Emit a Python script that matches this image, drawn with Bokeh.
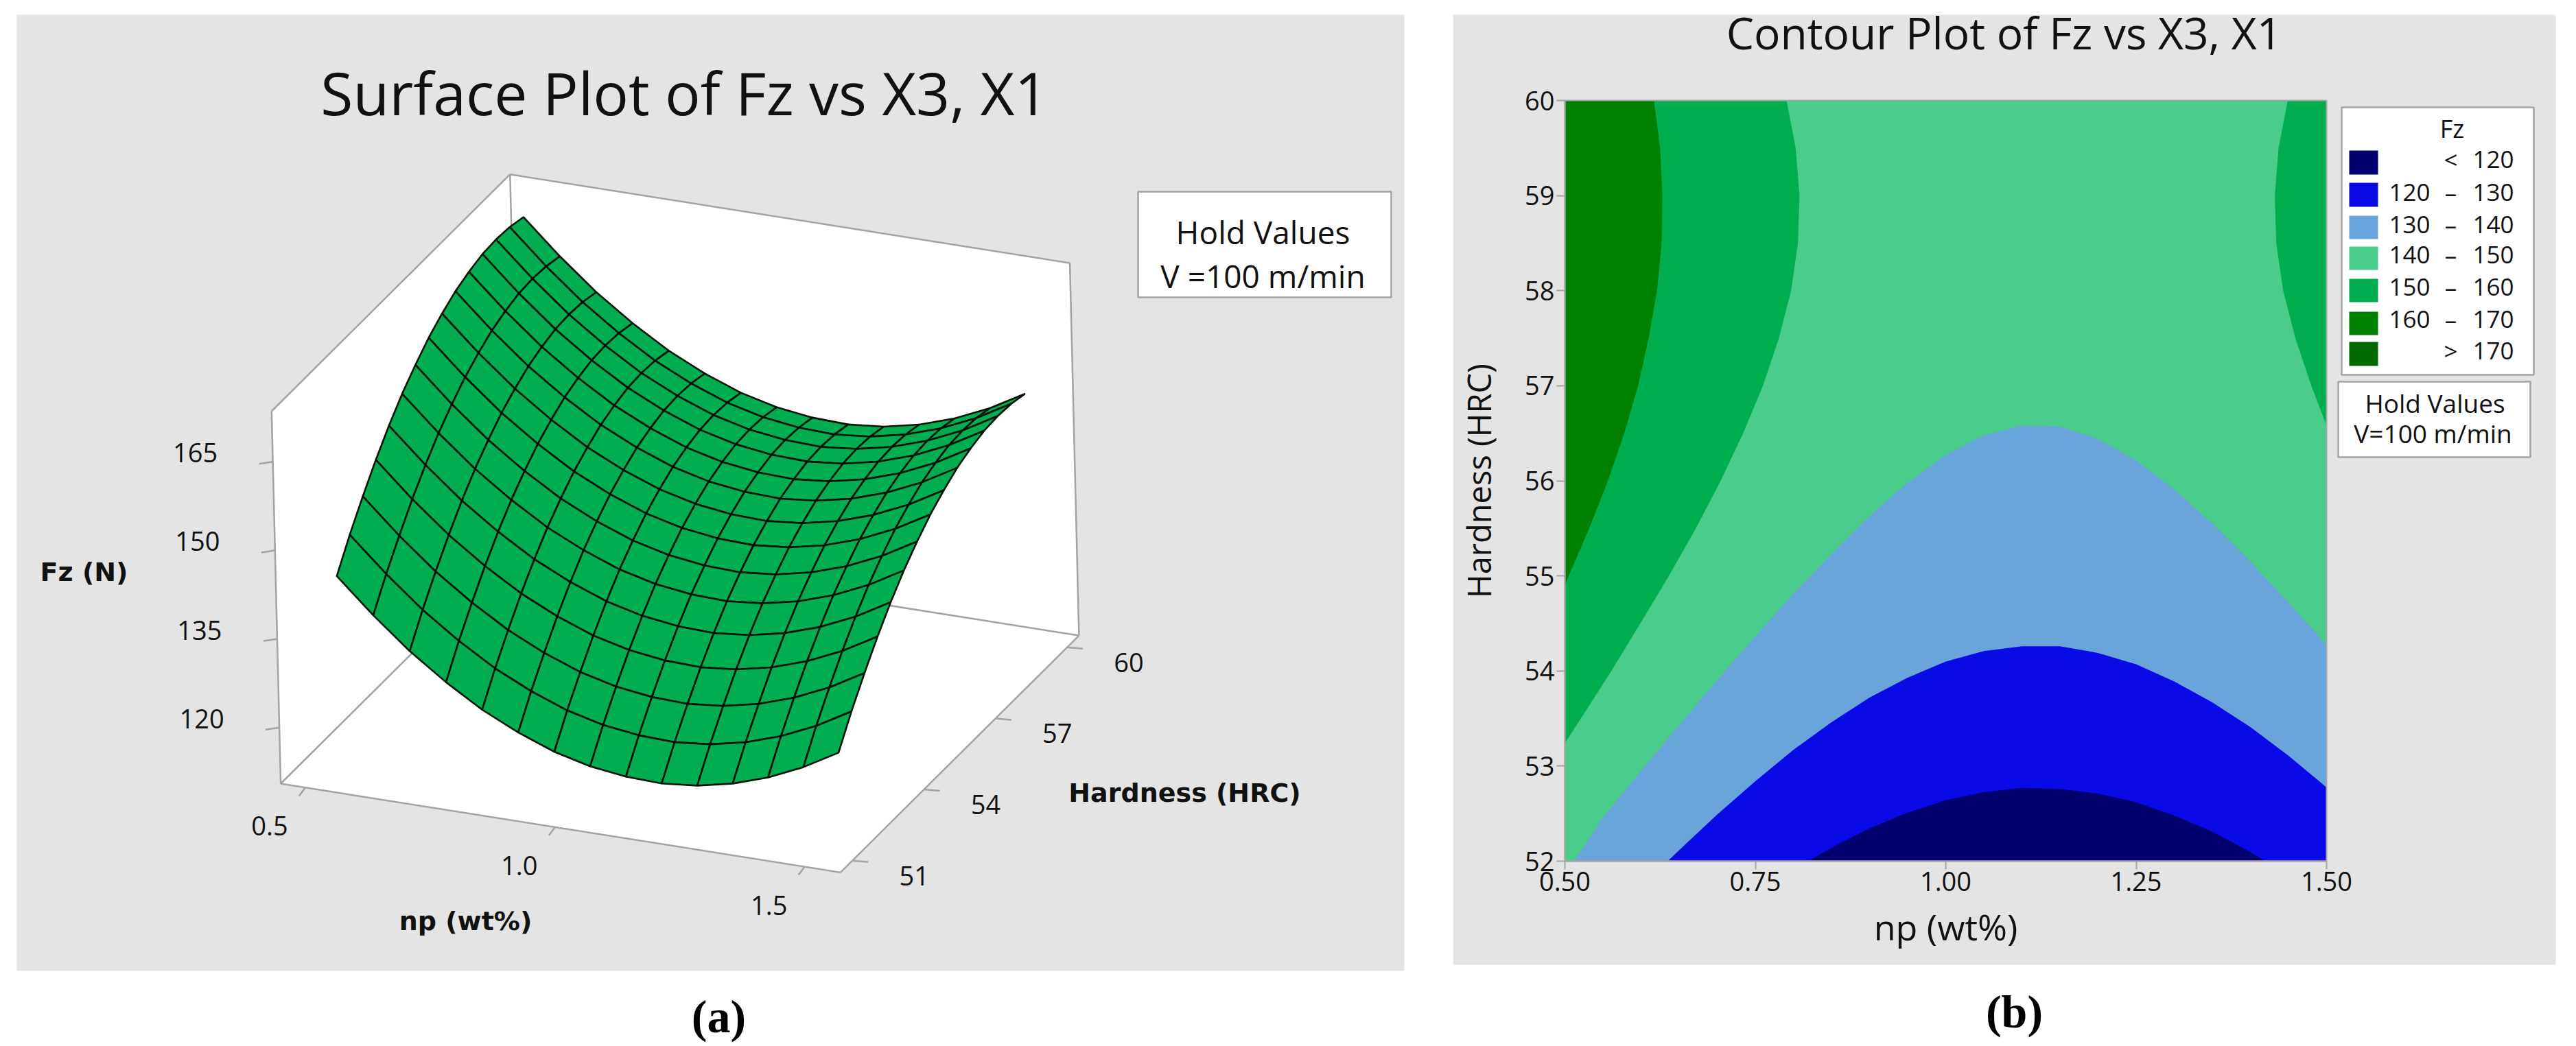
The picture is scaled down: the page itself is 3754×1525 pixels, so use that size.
from bokeh.plotting import figure
from bokeh.layouts import row
from bokeh.models import Range1d, FixedTicker, NumeralTickFormatter
from bokeh.core.properties import value
from bokeh.embed import file_html
from bokeh.resources import INLINE

# ---------- data: surface plot ----------
np_nodes = [0.5, 0.5714, 0.6429, 0.7143, 0.7857, 0.8571, 0.9286, 1.0, 1.0714, 1.1429, 1.2143, 1.2857, 1.3571, 1.4286, 1.5]
hrc_nodes = [52, 52.571, 53.143, 53.714, 54.286, 54.857, 55.429, 56, 56.571, 57.143, 57.714, 58.286, 58.857, 59.429, 60]
fz_surface = [
    [140.3, 134.6, 129.5, 125.2, 121.5, 118.6, 116.3, 114.8, 114.0, 113.8, 114.4, 115.7, 117.7, 120.4, 123.8],
    [145.0, 139.3, 134.2, 129.9, 126.2, 123.3, 121.0, 119.5, 118.7, 118.5, 119.1, 120.4, 122.4, 125.1, 128.5],
    [149.2, 143.5, 138.4, 134.1, 130.4, 127.5, 125.2, 123.7, 122.9, 122.7, 123.3, 124.6, 126.6, 129.3, 132.7],
    [153.1, 147.4, 142.3, 138.0, 134.3, 131.4, 129.1, 127.6, 126.8, 126.6, 127.2, 128.5, 130.5, 133.2, 136.6],
    [156.6, 150.9, 145.8, 141.5, 137.8, 134.9, 132.6, 131.1, 130.3, 130.1, 130.7, 132.0, 134.0, 136.7, 140.1],
    [159.7, 154.0, 148.9, 144.6, 140.9, 138.0, 135.7, 134.2, 133.4, 133.2, 133.8, 135.1, 137.1, 139.8, 143.2],
    [162.3, 156.6, 151.5, 147.2, 143.5, 140.6, 138.3, 136.8, 136.0, 135.8, 136.4, 137.7, 139.7, 142.4, 145.8],
    [164.6, 158.9, 153.8, 149.5, 145.8, 142.9, 140.6, 139.1, 138.3, 138.1, 138.7, 140.0, 142.0, 144.7, 148.1],
    [166.4, 160.7, 155.6, 151.3, 147.6, 144.7, 142.4, 140.9, 140.1, 139.9, 140.5, 141.8, 143.8, 146.5, 149.9],
    [167.9, 162.2, 157.1, 152.8, 149.1, 146.2, 143.9, 142.4, 141.6, 141.4, 142.0, 143.3, 145.3, 148.0, 151.4],
    [168.9, 163.2, 158.1, 153.8, 150.1, 147.2, 144.9, 143.4, 142.6, 142.4, 143.0, 144.3, 146.3, 149.0, 152.4],
    [169.6, 163.9, 158.8, 154.5, 150.8, 147.9, 145.6, 144.1, 143.3, 143.1, 143.7, 145.0, 147.0, 149.7, 153.1],
    [169.8, 164.1, 159.0, 154.7, 151.0, 148.1, 145.8, 144.3, 143.5, 143.3, 143.9, 145.2, 147.2, 149.9, 153.3],
    [169.6, 163.9, 158.8, 154.5, 150.8, 147.9, 145.6, 144.1, 143.3, 143.1, 143.7, 145.0, 147.0, 149.7, 153.1],
    [169.0, 163.3, 158.2, 153.9, 150.2, 147.3, 145.0, 143.5, 142.7, 142.5, 143.1, 144.4, 146.4, 149.1, 152.5],
]
np_ticks = [0.5, 1.0, 1.5]
hrc_ticks = [51, 54, 57, 60]
fz_ticks = [120, 135, 150, 165]

# ---------- data: contour boundaries (np, HRC) ----------
c120_np = [0.82, 0.85, 0.90, 0.95, 1.00, 1.05, 1.10, 1.15, 1.20, 1.25, 1.30, 1.35, 1.40, 1.42]
c120_h = [52.0, 52.14, 52.345, 52.51, 52.64, 52.725, 52.77, 52.76, 52.71, 52.62, 52.48, 52.31, 52.095, 52.0]
c130_np = [0.635, 0.65, 0.70, 0.75, 0.80, 0.85, 0.90, 0.95, 1.00, 1.05, 1.10, 1.15, 1.20, 1.25, 1.30, 1.35, 1.40, 1.45, 1.50]
c130_h = [52.0, 52.115, 52.49, 52.84, 53.17, 53.46, 53.72, 53.93, 54.10, 54.21, 54.26, 54.26, 54.19, 54.07, 53.89, 53.67, 53.41, 53.11, 52.775]
c140_np = [0.5125, 0.55, 0.60, 0.65, 0.70, 0.75, 0.80, 0.85, 0.90, 0.95, 1.00, 1.05, 1.10, 1.15, 1.20, 1.25, 1.30, 1.35, 1.40, 1.45, 1.50]
c140_h = [52.0, 52.46, 52.95, 53.43, 53.905, 54.365, 54.81, 55.23, 55.63, 55.98, 56.27, 56.48, 56.58, 56.57, 56.44, 56.215, 55.91, 55.55, 55.15, 54.72, 54.275]
c150l_np = [0.791, 0.803, 0.808, 0.806, 0.797, 0.781, 0.76, 0.734, 0.7045, 0.672, 0.6365, 0.599, 0.561, 0.521, 0.5]
c150l_h = [60.0, 59.5, 59.0, 58.5, 58.0, 57.5, 57.0, 56.5, 56.0, 55.5, 55.0, 54.5, 54.0, 53.5, 53.24]
c160l_np = [0.617, 0.625, 0.628, 0.627, 0.621, 0.61, 0.596, 0.578, 0.5565, 0.532, 0.505, 0.5]
c160l_h = [60.0, 59.5, 59.0, 58.5, 58.0, 57.5, 57.0, 56.5, 56.0, 55.5, 55.0, 54.9]
c150r_np = [1.449, 1.437, 1.432, 1.434, 1.443, 1.459, 1.48, 1.5]
c150r_h = [60.0, 59.5, 59.0, 58.5, 58.0, 57.5, 57.0, 56.58]
np_contour_ticks = [0.5, 0.75, 1.0, 1.25, 1.5]
hrc_contour_ticks = [52, 53, 54, 55, 56, 57, 58, 59, 60]

legend_low = ["", "120", "130", "140", "150", "160", ""]
legend_sep = ["<", "\u2013", "\u2013", "\u2013", "\u2013", "\u2013", ">"]
legend_high = ["120", "130", "140", "150", "160", "170", "170"]

# ---------- styles ----------
PANEL = "#e4e4e4"
GREY = "#a3a3a3"
SURF = "#00ad50"
NAVY, BLUE, SKY, MINT, GREEN, DGREEN, DDGREEN = "#01006e", "#0a0ae6", "#69a5da", "#4acc8c", "#00ae50", "#008000", "#006a00"
SANS = value("Open Sans")
BOLD = value("DejaVu Sans")

def txt(p, x, y, s, size, font=SANS, style="normal", color="#111111", angle=0):
    p.text([x], [y], text=[s], text_font=font, text_font_size=size, text_font_style=style, text_color=color,
           text_align="center", text_baseline="middle", angle=angle)

# ---------- panel (a) ----------
pa = figure(width=2117, height=1525, x_range=Range1d(0, 2117), y_range=Range1d(1525, 0),
            x_axis_type=None, y_axis_type=None, min_border=0, output_backend="svg",
            toolbar_location=None, outline_line_color=None, background_fill_color="white",
            border_fill_color="white")
pa.grid.visible = False
pa.quad(left=[24], right=[2046], top=[21], bottom=[1415], fill_color=PANEL, line_color=None)

O, U, V, W = (408.6, 1142.0), (815.8, 129.4), (347.5, -345.3), (-13.3, -543.0)
def proj(u, v, w):
    return (O[0] + u * U[0] + v * V[0] + w * W[0], O[1] + u * U[1] + v * V[1] + w * W[1])
def u_of(n):
    return 0.044 + 0.892 * (n - 0.5)
def v_of(h):
    return 0.05 + 0.1 * (h - 51)
def w_of(f):
    return 0.1505 + 0.01586 * (f - 120)

hexa = [proj(0, 0, 1), proj(0, 1, 1), proj(1, 1, 1), proj(1, 1, 0), proj(1, 0, 0), proj(0, 0, 0)]
pa.patch([q[0] for q in hexa], [q[1] for q in hexa], fill_color="white", line_color=None)
edges = [((0, 0, 0), (0, 0, 1)), ((0, 0, 1), (0, 1, 1)), ((0, 1, 1), (1, 1, 1)), ((1, 1, 1), (1, 1, 0)),
         ((1, 1, 0), (1, 0, 0)), ((1, 0, 0), (0, 0, 0)), ((0, 0, 0), (0, 1, 0)), ((0, 1, 0), (1, 1, 0)),
         ((0, 1, 0), (0, 1, 1))]
pa.multi_line([[proj(*a)[0], proj(*b)[0]] for a, b in edges], [[proj(*a)[1], proj(*b)[1]] for a, b in edges],
              line_color=GREY, line_width=2.5)

xs, ys = [], []
for j in range(len(hrc_nodes) - 2, -1, -1):
    for i in range(len(np_nodes) - 1):
        pts = [proj(u_of(np_nodes[a]), v_of(hrc_nodes[b]), w_of(fz_surface[b][a]))
               for a, b in ((i, j), (i + 1, j), (i + 1, j + 1), (i, j + 1))]
        xs.append([q[0] for q in pts])
        ys.append([q[1] for q in pts])
pa.patches(xs, ys, fill_color=SURF, line_color="#061206", line_width=2.6)

def ticks(anchors, d, tx, ty, labels):
    pa.multi_line([[a[0], a[0] + d[0]] for a in anchors], [[a[1], a[1] + d[1]] for a in anchors],
                  line_color=GREY, line_width=2.5)
    pa.text([a[0] + tx for a in anchors], [a[1] + ty for a in anchors], text=labels, text_font=SANS,
            text_font_size="38px", text_color="#111111", text_align="center", text_baseline="middle")

ticks([proj(0, 0, w_of(f)) for f in fz_ticks], (-20, 3), -113, -13, [str(f) for f in fz_ticks])
ticks([proj(u_of(n), 0, 0) for n in np_ticks], (-9, 12), -52, 56, [f"{n:.1f}" for n in np_ticks])
ticks([proj(1, v_of(h), 0) for h in hrc_ticks], (23, 2), 90, 22, [str(h) for h in hrc_ticks])

txt(pa, 997, 134, "Surface Plot of Fz vs X3, X1", "86px")
txt(pa, 122, 833, "Fz (N)", "38px", BOLD, "bold")
txt(pa, 1726, 1155, "Hardness (HRC)", "38px", BOLD, "bold")
txt(pa, 678, 1342, "np (wt%)", "38px", BOLD, "bold")
pa.quad(left=[1658], right=[2027], top=[279], bottom=[433], fill_color="white", line_color=GREY, line_width=2.5)
txt(pa, 1840, 337, "Hold Values", "46px")
txt(pa, 1840, 401, "V =100 m/min", "46px")
txt(pa, 1047, 1481, "(a)", "68px", value("Liberation Serif"), "bold", "black")

# ---------- panel (b) ----------
def bx(X):
    return 0.5 + (X - 2280) / 1110
def by(Y):
    return 60 - (Y - 146) / 1109 * 8

pb = figure(width=1620, height=1525, x_range=Range1d(bx(2117), bx(3737)), y_range=Range1d(by(1525), by(0)),
            min_border=0, output_backend="svg", toolbar_location=None, border_fill_color="white",
            background_fill_color="white", outline_line_color=None,
            x_axis_label="np (wt%)", y_axis_label="Hardness (HRC)")
pb.grid.visible = False
pb.quad(left=[bx(2117)], right=[bx(3724)], top=[by(21)], bottom=[by(1406)], fill_color=PANEL, line_color=None)
pb.quad(left=[0.5], right=[1.5], bottom=[52], top=[60], fill_color=MINT, line_color=None)
pb.patch(c140_np + [1.5], c140_h + [52], fill_color=SKY, line_color=None)
pb.patch(c130_np + [1.5], c130_h + [52], fill_color=BLUE, line_color=None)
pb.patch(c120_np, c120_h, fill_color=NAVY, line_color=None)
pb.patch(c150l_np + [0.5], c150l_h + [60], fill_color=GREEN, line_color=None)
pb.patch(c160l_np + [0.5], c160l_h + [60], fill_color=DGREEN, line_color=None)
pb.patch(c150r_np + [1.5], c150r_h + [60], fill_color=GREEN, line_color=None)
pb.quad(left=[0.5], right=[1.5], bottom=[52], top=[60], fill_color=None, line_color=GREY, line_width=2)

pb.xaxis.ticker = FixedTicker(ticks=np_contour_ticks)
pb.xaxis.formatter = NumeralTickFormatter(format="0.00")
pb.yaxis.ticker = FixedTicker(ticks=hrc_contour_ticks)
pb.xaxis.fixed_location = 52
pb.yaxis.fixed_location = 0.5
pb.xaxis.bounds = (0.5, 1.5)
pb.yaxis.bounds = (52, 60)
for ax in (pb.xaxis, pb.yaxis):
    ax.major_label_text_font = "Open Sans"
    ax.major_label_text_font_size = "38px"
    ax.major_label_text_color = "#111111"
    ax.axis_label_text_font = "Open Sans"
    ax.axis_label_text_font_style = "normal"
    ax.axis_label_text_color = "#111111"
    ax.axis_line_color = GREY
    ax.axis_line_width = 2
    ax.major_tick_line_color = GREY
    ax.major_tick_line_width = 2
    ax.major_tick_out = 12
    ax.major_tick_in = 0
    ax.minor_tick_line_color = None
    ax.major_label_standoff = 3
pb.xaxis.axis_label_standoff = 13
pb.yaxis.axis_label_standoff = 32
pb.xaxis.axis_label_text_font_size = "52px"
pb.yaxis.axis_label_text_font_size = "47px"

def tb(X, Y, s, size):
    txt(pb, bx(X), by(Y), s, size)
def box(X0, X1, Y0, Y1, fill, line=None):
    pb.quad(left=[bx(X0)], right=[bx(X1)], top=[by(Y0)], bottom=[by(Y1)], fill_color=fill, line_color=line, line_width=2.5)

tb(2920, 47, "Contour Plot of Fz vs X3, X1", "64px")
box(3412, 3692, 156, 546, "white", GREY)
tb(3573, 187, "Fz", "36px")
swatches = [NAVY, BLUE, SKY, MINT, GREEN, DGREEN, DDGREEN]
sw_top = [219, 266, 314, 359, 406, 454, 498]
sw_bot = [254, 301, 348, 393, 440, 488, 533]
row_y = [232, 280, 327, 371, 418, 465, 511]
for c, a, b, y, lo, se, hi in zip(swatches, sw_top, sw_bot, row_y, legend_low, legend_sep, legend_high):
    box(3423, 3465, a, b, c)
    if lo:
        tb(3511, y, lo, "35px")
    tb(3571, y, se, "35px")
    tb(3633, y, hi, "35px")
box(3407, 3687, 556, 666, "white", GREY)
tb(3548, 587, "Hold Values", "37px")
tb(3545, 631, "V=100 m/min", "37px")
txt(pb, bx(2935), by(1474), "(b)", "68px", value("Liberation Serif"), "bold", "black")

layout = row(pa, pb, spacing=0)
open("out.html", "w").write(file_html(layout, INLINE))
